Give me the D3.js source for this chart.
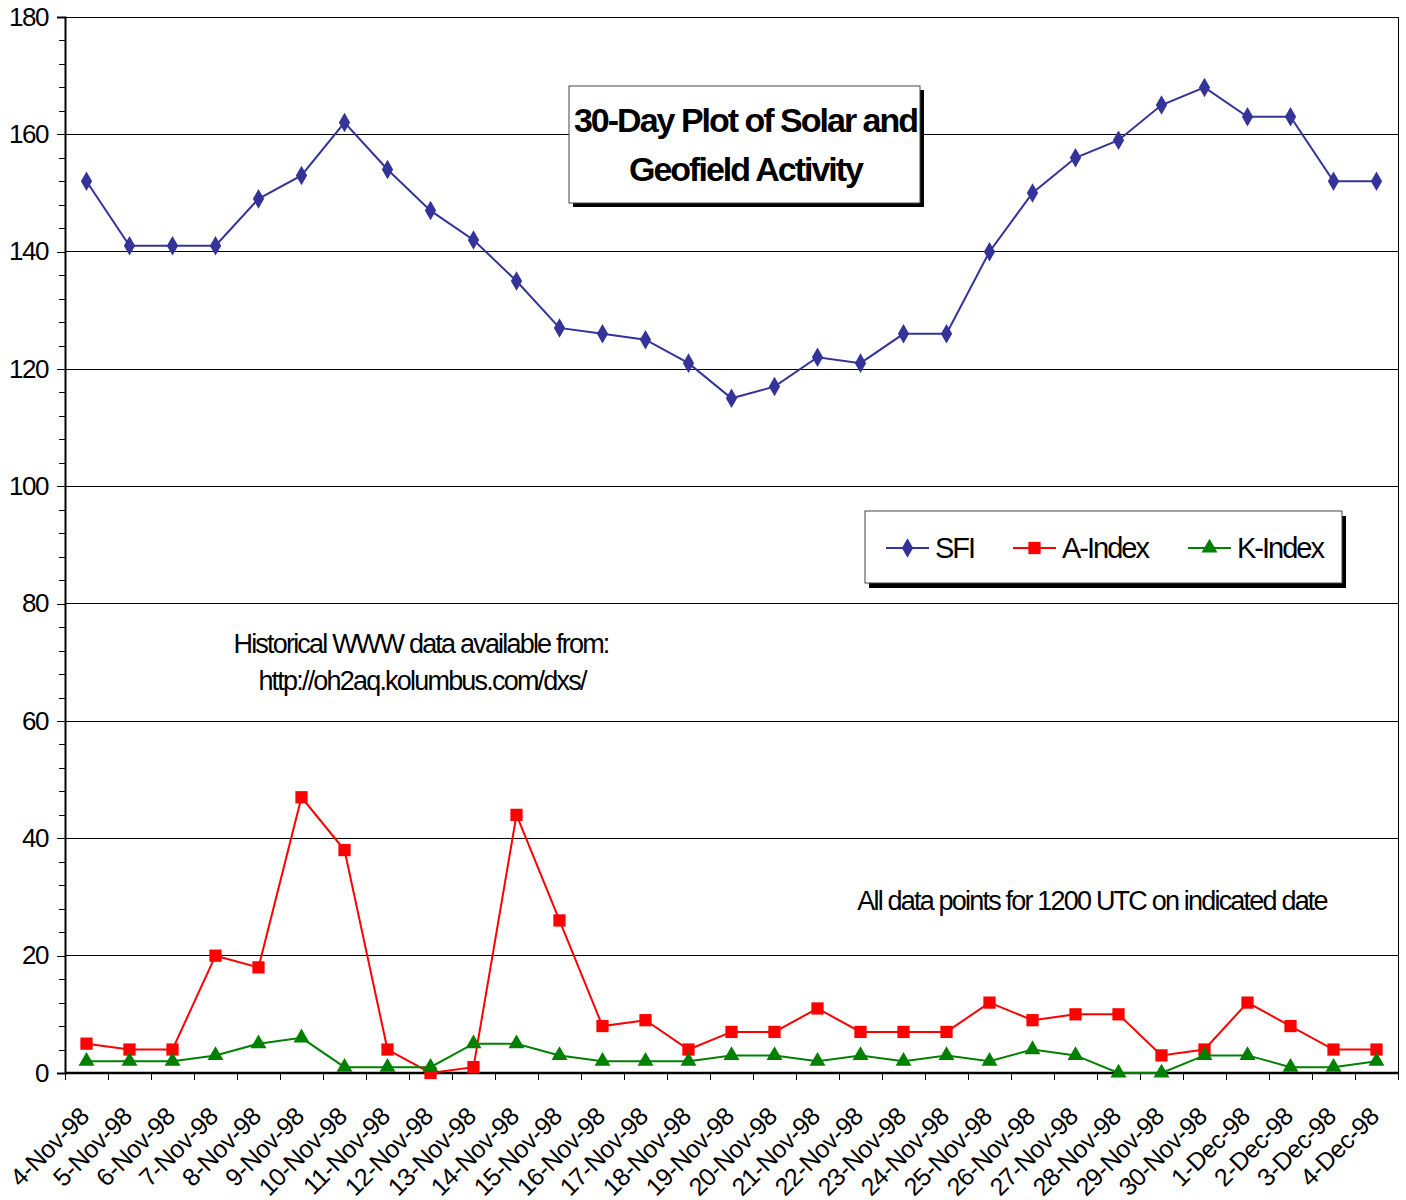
<!DOCTYPE html>
<html>
<head>
<meta charset="utf-8">
<script src="https://cdn.jsdelivr.net/npm/d3@7"></script>
<style>
  body { margin: 0; background: #fff; }
  svg text { font-family: "Liberation Sans", Arial, sans-serif; }
</style>
</head>
<body>
<div id="chart"></div>
<script>
// Dates along the x axis
const dates = [
  "4-Nov-98", "5-Nov-98", "6-Nov-98", "7-Nov-98", "8-Nov-98", "9-Nov-98",
  "10-Nov-98", "11-Nov-98", "12-Nov-98", "13-Nov-98", "14-Nov-98", "15-Nov-98",
  "16-Nov-98", "17-Nov-98", "18-Nov-98", "19-Nov-98", "20-Nov-98", "21-Nov-98",
  "22-Nov-98", "23-Nov-98", "24-Nov-98", "25-Nov-98", "26-Nov-98", "27-Nov-98",
  "28-Nov-98", "29-Nov-98", "30-Nov-98", "1-Dec-98", "2-Dec-98", "3-Dec-98", "4-Dec-98"
];

// Series values
const sfi = [152, 141, 141, 141, 149, 153, 162, 154, 147, 142, 135, 127, 126, 125, 121,
  115, 117, 122, 121, 126, 126, 140, 150, 156, 159, 165, 168, 163, 163, 152, 152];
const aIndex = [5, 4, 4, 20, 18, 47, 38, 4, 0, 1, 44, 26, 8, 9, 4,
  7, 7, 11, 7, 7, 7, 12, 9, 10, 10, 3, 4, 12, 8, 4, 4];
const kIndex = [2, 2, 2, 3, 5, 6, 1, 1, 1, 5, 5, 3, 2, 2, 2,
  3, 3, 2, 3, 2, 3, 2, 4, 3, 0, 0, 3, 3, 1, 1, 2];

const yTicks = [0, 20, 40, 60, 80, 100, 120, 140, 160, 180];
const yMinorTicks = d3.range(0, 181, 4);

const seriesNames = ["SFI", "A-Index", "K-Index"];

// Chart dimensions
const W = 1406, H = 1200;
const margin = { top: 17, right: 8, bottom: 127, left: 65 };
const width = W - margin.left - margin.right;
const height = H - margin.top - margin.bottom;

const svg = d3.select("#chart")
  .append("svg")
  .attr("width", W)
  .attr("height", H);

const g = svg.append("g")
  .attr("transform", `translate(${margin.left},${margin.top})`);

// Scales
const xScale = d3.scaleBand().domain(dates).range([0, width]);
const xc = (d) => xScale(d) + xScale.bandwidth() / 2;
const yScale = d3.scaleLinear().domain([0, 180]).range([height, 0]);

// Gridlines
g.append("g")
  .selectAll("line")
  .data(yTicks.filter((d) => d > 0))
  .enter()
  .append("line")
  .attr("x1", 0)
  .attr("x2", width)
  .attr("y1", (d) => yScale(d))
  .attr("y2", (d) => yScale(d))
  .attr("stroke", "#000")
  .attr("stroke-width", 1)
  .attr("shape-rendering", "crispEdges");

// Right border
g.append("line")
  .attr("x1", width).attr("x2", width)
  .attr("y1", 0).attr("y2", height)
  .attr("stroke", "#000")
  .attr("shape-rendering", "crispEdges");

// Y axis: minor ticks then major ticks with labels
g.append("g")
  .call(d3.axisLeft(yScale).tickValues(yMinorTicks).tickSize(6).tickFormat(""))
  .call((a) => a.select(".domain").remove())
  .call((a) => a.selectAll("line").attr("shape-rendering", "crispEdges"));

const yAxis = g.append("g")
  .call(d3.axisLeft(yScale).tickValues(yTicks).tickSize(8).tickPadding(9));
yAxis.select(".domain").attr("stroke-width", 2);
yAxis.selectAll("line").attr("shape-rendering", "crispEdges");
yAxis.selectAll("text")
  .attr("font-size", 26)
  .attr("letter-spacing", "-1.5px")
  .attr("fill", "#000")
  .attr("font-family", "Liberation Sans, Arial, sans-serif");

// X axis: ticks on category boundaries
const xAxis = g.append("g")
  .attr("transform", `translate(0,${height})`);
xAxis.append("line")
  .attr("x1", 0).attr("x2", width)
  .attr("stroke", "#000")
  .attr("stroke-width", 2.5);
xAxis.selectAll(".tick")
  .data(dates.concat(["end"]))
  .enter()
  .append("line")
  .attr("x1", (d, i) => i * xScale.step())
  .attr("x2", (d, i) => i * xScale.step())
  .attr("y1", 0)
  .attr("y2", 7)
  .attr("stroke", "#000")
  .attr("shape-rendering", "crispEdges");
xAxis.selectAll(".xlabel")
  .data(dates)
  .enter()
  .append("text")
  .attr("class", "xlabel")
  .attr("transform", (d) => `translate(${xc(d) + 4},${45}) rotate(-45)`)
  .attr("text-anchor", "end")
  .attr("font-size", 25)
  .attr("letter-spacing", "-0.5px")
  .text((d) => d);

// Series drawing
const line = d3.line()
  .x((d, i) => xc(dates[i]))
  .y((d) => yScale(d));

const series = [
  { name: "SFI", values: sfi, color: "#333399", symbol: d3.symbolDiamond, size: 110 },
  { name: "A-Index", values: aIndex, color: "#FF0000", symbol: d3.symbolSquare, size: 150 },
  { name: "K-Index", values: kIndex, color: "#008000", symbol: d3.symbolTriangle, size: 110 }
];

series.forEach((s) => {
  g.append("path")
    .datum(s.values)
    .attr("fill", "none")
    .attr("stroke", s.color)
    .attr("stroke-width", 2)
    .attr("d", line);
  g.selectAll(".m-" + s.name)
    .data(s.values)
    .enter()
    .append("path")
    .attr("d", d3.symbol().type(s.symbol).size(s.size))
    .attr("transform", (d, i) => `translate(${xc(dates[i])},${yScale(d)})`)
    .attr("fill", s.color);
});

// Title box with shadow
const tb = { x: 569, y: 86, w: 351, h: 117 };
svg.append("rect")
  .attr("x", tb.x + 4).attr("y", tb.y + 4)
  .attr("width", tb.w).attr("height", tb.h)
  .attr("fill", "#000");
svg.append("rect")
  .attr("x", tb.x).attr("y", tb.y)
  .attr("width", tb.w).attr("height", tb.h)
  .attr("fill", "#fff")
  .attr("stroke", "#444")
  .attr("stroke-width", 1);
svg.append("text")
  .attr("x", tb.x + tb.w / 2 + 1).attr("y", 132)
  .attr("text-anchor", "middle")
  .attr("font-size", 34)
  .attr("font-weight", "bold")
  .attr("letter-spacing", "-2px")
  .text("30-Day Plot of Solar and");
svg.append("text")
  .attr("x", tb.x + tb.w / 2 + 1).attr("y", 181)
  .attr("text-anchor", "middle")
  .attr("font-size", 34)
  .attr("font-weight", "bold")
  .attr("letter-spacing", "-2px")
  .text("Geofield Activity");

// Legend box with shadow
const lb = { x: 865, y: 511, w: 477, h: 72 };
svg.append("rect")
  .attr("x", lb.x + 4).attr("y", lb.y + 5)
  .attr("width", lb.w).attr("height", lb.h)
  .attr("fill", "#000");
svg.append("rect")
  .attr("x", lb.x).attr("y", lb.y)
  .attr("width", lb.w).attr("height", lb.h)
  .attr("fill", "#fff")
  .attr("stroke", "#444");
const legendX = [886, 1013, 1188];
series.forEach((s, i) => {
  const lg = svg.append("g").attr("transform", `translate(${legendX[i]},548)`);
  lg.append("line")
    .attr("x1", 0).attr("x2", 43)
    .attr("stroke", s.color).attr("stroke-width", 2);
  lg.append("path")
    .attr("d", d3.symbol().type(s.symbol).size(s.size))
    .attr("transform", "translate(21.5,0)")
    .attr("fill", s.color);
  lg.append("text")
    .attr("x", 49).attr("y", 10)
    .attr("font-size", 29)
    .attr("letter-spacing", "-2px")
    .text(seriesNames[i]);
});

// Notes
svg.append("text")
  .attr("x", 421).attr("y", 653)
  .attr("text-anchor", "middle")
  .attr("font-size", 27)
  .attr("letter-spacing", "-1.8px")
  .text("Historical WWW data available from:");
svg.append("text")
  .attr("x", 422).attr("y", 690)
  .attr("text-anchor", "middle")
  .attr("font-size", 27)
  .attr("letter-spacing", "-1.8px")
  .text("http://oh2aq.kolumbus.com/dxs/");
svg.append("text")
  .attr("x", 1092).attr("y", 910)
  .attr("text-anchor", "middle")
  .attr("font-size", 27)
  .attr("letter-spacing", "-1.8px")
  .text("All data points for 1200 UTC on indicated date");
</script>
</body>
</html>
